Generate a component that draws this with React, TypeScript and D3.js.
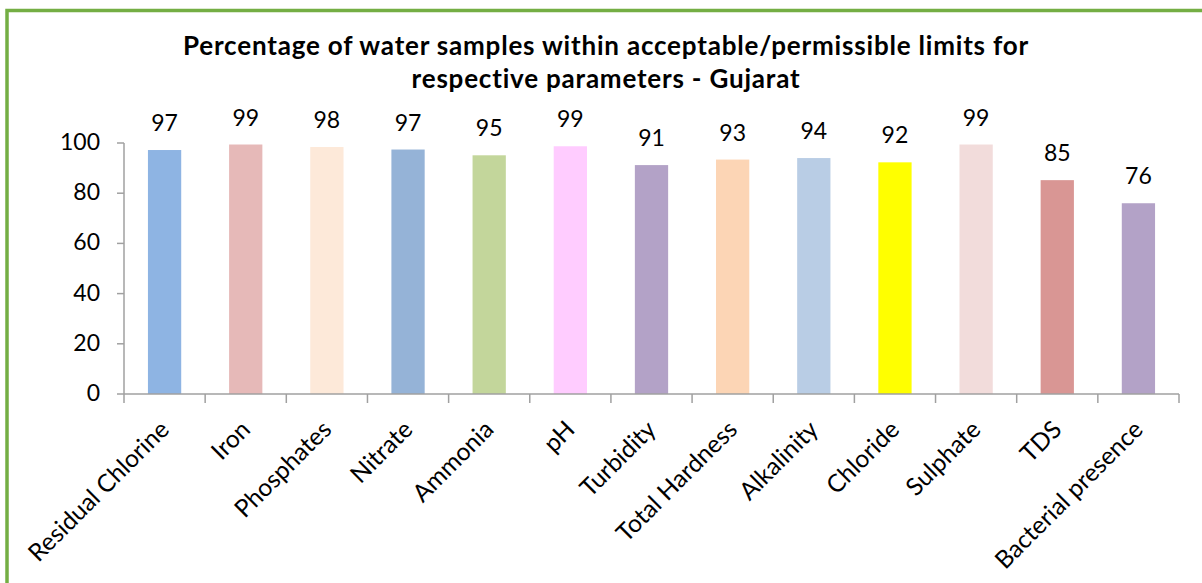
import { useEffect, useRef } from 'react'
import * as d3 from 'd3'

const categories = [
  'Residual Chlorine', 'Iron', 'Phosphates', 'Nitrate', 'Ammonia', 'pH', 'Turbidity',
  'Total Hardness', 'Alkalinity', 'Chloride', 'Sulphate', 'TDS', 'Bacterial presence',
]
const values = [97.2, 99.4, 98.4, 97.4, 95.1, 98.7, 91.2, 93.4, 94.0, 92.3, 99.4, 85.2, 76.0]
const barColors = [
  '#8eb4e3', '#e6b9b8', '#fde9d9', '#95b3d7', '#c3d69b', '#ffccff', '#b3a2c7',
  '#fcd5b5', '#b9cde5', '#ffff00', '#f2dcdb', '#d99694', '#b3a2c7',
]
const yTicks = [0, 20, 40, 60, 80, 100]
const titleLines = [
  'Percentage of water samples within acceptable/permissible limits for',
  'respective parameters - Gujarat',
]

const W = 1202
const H = 583
const FONT = 'Lato, "Open Sans", sans-serif'
const AXIS = '#a0a0a0'

export default function App() {
  const svgRef = useRef<SVGSVGElement>(null)

  useEffect(() => {
    if (!svgRef.current) return
    const svg = d3.select(svgRef.current)
    svg.selectAll('*').remove()

    const left = 124
    const right = 1179
    const top = 143
    const bottom = 394

    const x = d3.scaleBand<string>()
      .domain(categories)
      .range([left, right])
      .paddingInner(0.59)
      .paddingOuter(0.295)
    const step = x.step()
    const y = d3.scaleLinear().domain([0, 100]).range([bottom, top])

    // frame (only top/left edges visible in the crop)
    svg.append('rect')
      .attr('x', 7)
      .attr('y', 10.5)
      .attr('width', W + 50)
      .attr('height', H + 50)
      .attr('fill', '#fff')
      .attr('stroke', '#74ae44')
      .attr('stroke-width', 3.5)

    // title
    svg.append('g')
      .selectAll('text')
      .data(titleLines)
      .enter()
      .append('text')
      .attr('x', 606)
      .attr('y', (_, i) => 55 + i * 33)
      .attr('text-anchor', 'middle')
      .attr('font-family', FONT)
      .attr('font-weight', 'bold')
      .attr('font-size', '26px')
      .attr('letter-spacing', '0.8px')
      .attr('fill', '#000')
      .text(d => d)

    // bars
    svg.append('g')
      .selectAll('rect')
      .data(values)
      .enter()
      .append('rect')
      .attr('x', (_, i) => x(categories[i])!)
      .attr('y', d => y(d))
      .attr('width', x.bandwidth())
      .attr('height', d => bottom - y(d))
      .attr('fill', (_, i) => barColors[i])

    // value labels
    svg.append('g')
      .selectAll('text')
      .data(values)
      .enter()
      .append('text')
      .attr('x', (_, i) => x(categories[i])! + x.bandwidth() / 2)
      .attr('y', d => y(d) - 19)
      .attr('text-anchor', 'middle')
      .attr('font-family', FONT)
      .attr('font-size', '23px')
      .attr('fill', '#000')
      .text(d => Math.round(d))

    // y axis
    const ya = svg.append('g').attr('stroke', AXIS).attr('stroke-width', 1.5)
    ya.append('line').attr('x1', left).attr('x2', left).attr('y1', top).attr('y2', bottom)
    ya.selectAll('.yt')
      .data(yTicks)
      .enter()
      .append('line')
      .attr('x1', left - 7)
      .attr('x2', left)
      .attr('y1', d => y(d))
      .attr('y2', d => y(d))
    svg.append('g')
      .selectAll('text')
      .data(yTicks)
      .enter()
      .append('text')
      .attr('x', 100)
      .attr('y', d => y(d))
      .attr('dy', '0.3em')
      .attr('text-anchor', 'end')
      .attr('font-family', FONT)
      .attr('font-size', '23px')
      .attr('fill', '#000')
      .text(d => d)

    // x axis
    const xa = svg.append('g').attr('stroke', AXIS).attr('stroke-width', 1.5)
    xa.append('line').attr('x1', left).attr('x2', right).attr('y1', bottom).attr('y2', bottom)
    xa.selectAll('.xt')
      .data(d3.range(categories.length + 1))
      .enter()
      .append('line')
      .attr('x1', i => left + i * step)
      .attr('x2', i => left + i * step)
      .attr('y1', bottom)
      .attr('y2', bottom + 9)

    svg.append('g')
      .selectAll('text')
      .data(categories)
      .enter()
      .append('text')
      .attr('transform', d => `translate(${x(d)! + x.bandwidth() / 2 + 6},${bottom + 37}) rotate(-45)`)
      .attr('text-anchor', 'end')
      .attr('font-family', FONT)
      .attr('font-size', '24.5px')
      .attr('fill', '#000')
      .text(d => d)
  }, [])

  return (
    <svg
      ref={svgRef}
      width={W}
      height={H}
      style={{ position: 'absolute', left: 0, top: 0, background: '#fff' }}
    />
  )
}
